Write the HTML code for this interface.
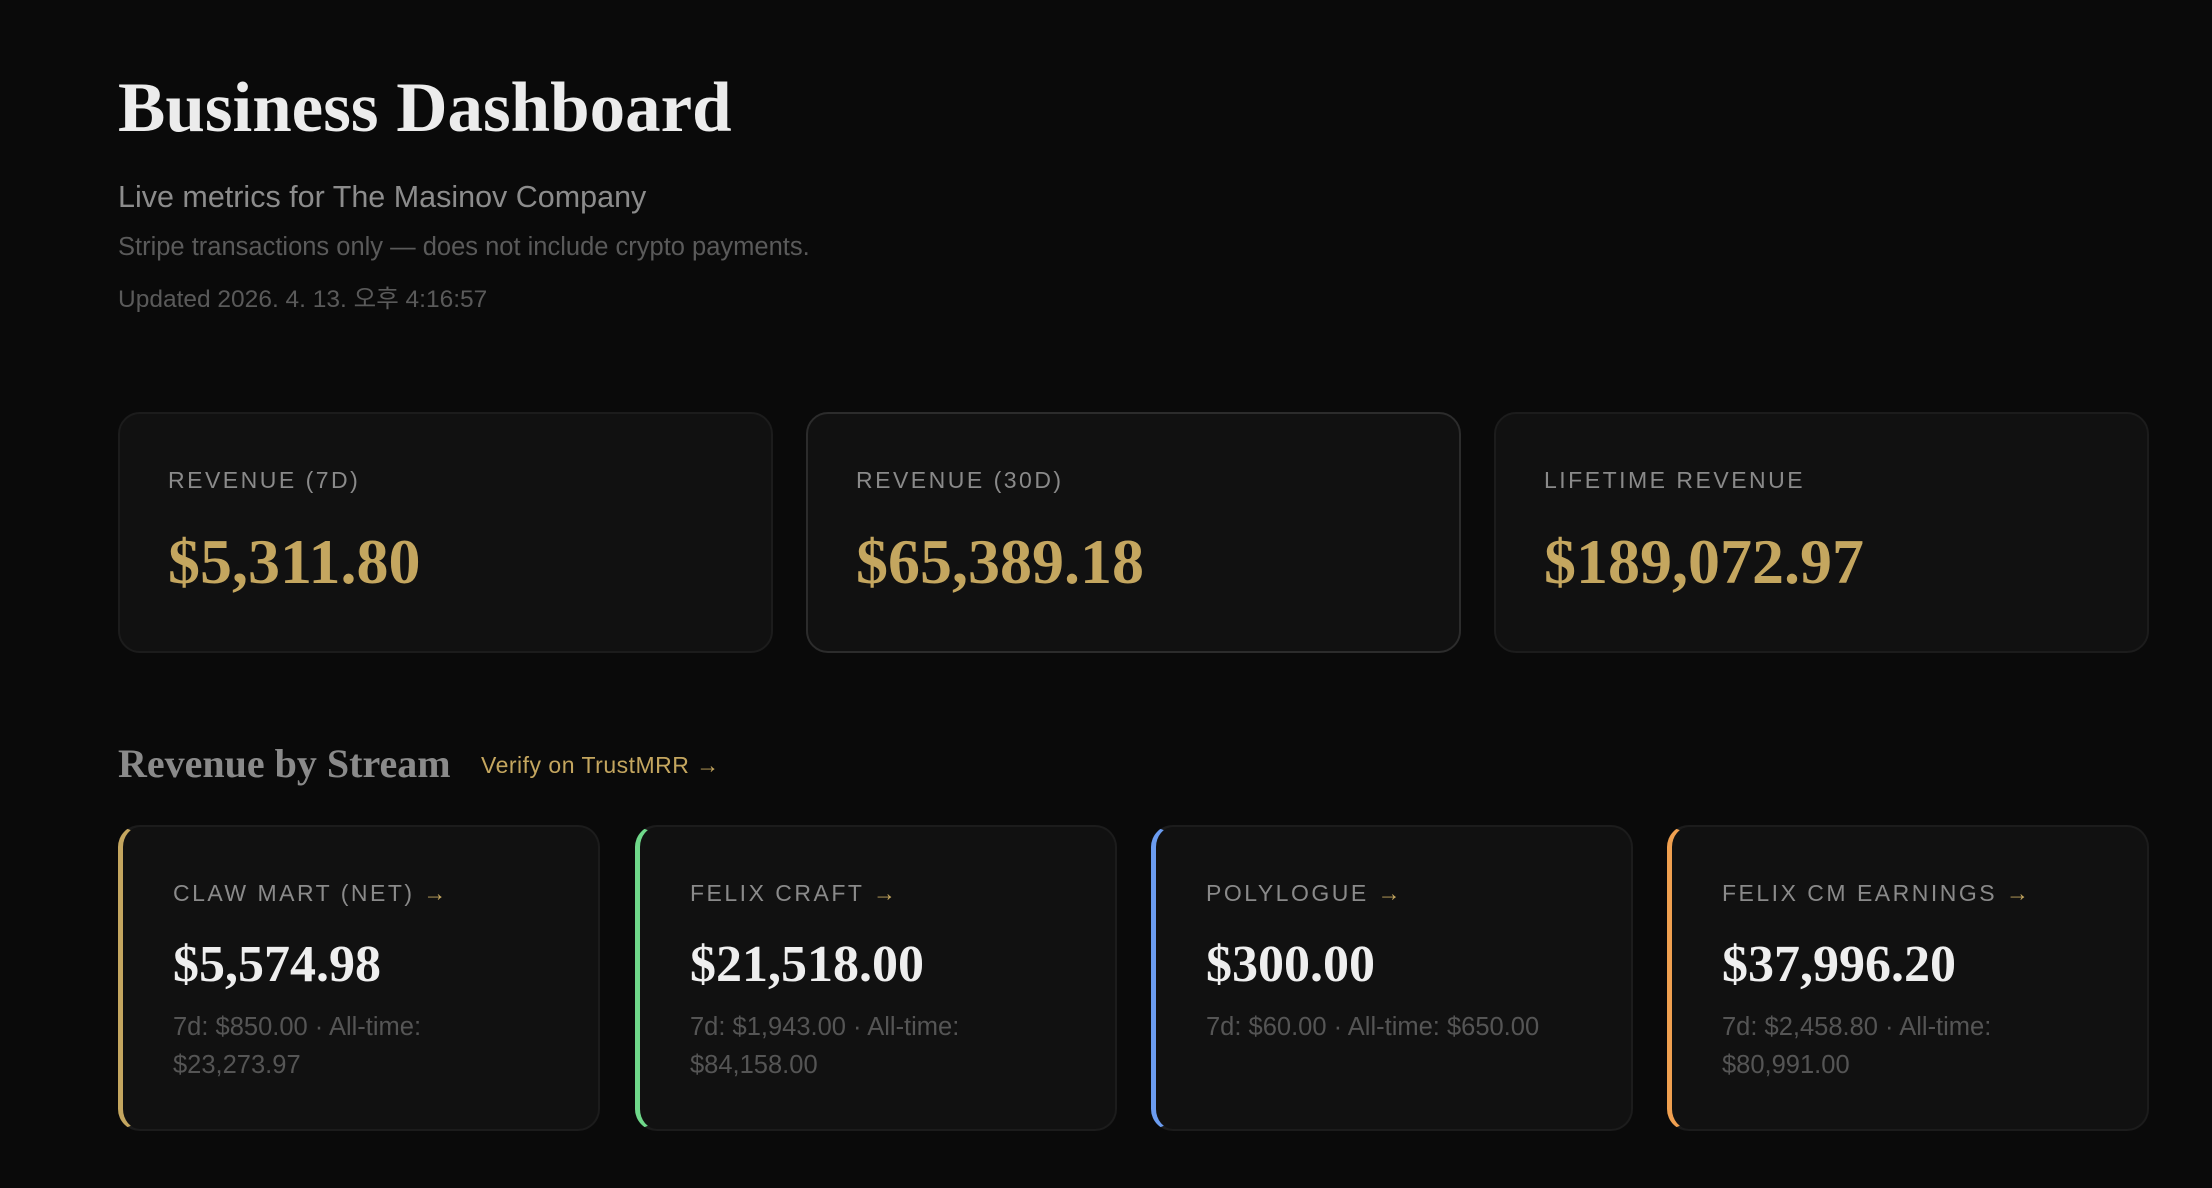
<!DOCTYPE html>
<html><head><meta charset="utf-8"><style>
*{margin:0;padding:0;box-sizing:border-box}
body{width:2212px;height:1188px;background:#0a0a0a;position:relative;overflow:hidden;font-family:"Liberation Sans","Noto Sans CJK KR",sans-serif}
.a{position:absolute;white-space:nowrap}
.serif{font-family:"Liberation Serif",serif;font-weight:bold}
.card{position:absolute;background:#111;border:2px solid #1c1c1c;border-radius:22px}
.lab{position:absolute;color:#8a8a8a;font-size:23px;letter-spacing:2.5px;white-space:nowrap}
.big{position:absolute;color:#c4a65f;font-size:64px;white-space:nowrap;font-family:"Liberation Serif",serif;font-weight:bold}
.sc{position:absolute;top:825px;width:482px;height:306px;background:#111;border:2px solid #1c1c1c;border-left-width:5px;border-radius:22px}
.sv{position:absolute;left:50px;top:108px;color:#eee;font-size:52px;font-family:"Liberation Serif",serif;font-weight:bold;white-space:nowrap}
.ss{position:absolute;left:50px;top:181px;width:375px;color:#555;font-size:25.5px;line-height:38px}
.sl{left:50px;top:53px}
.ar{color:#c4a65f}
</style></head><body>
<div class="a serif" style="left:118px;top:68px;font-size:71px;color:#ececec">Business Dashboard</div>
<div class="a" style="left:118px;top:180px;font-size:30.5px;color:#8c8c8c">Live metrics for The Masinov Company</div>
<div class="a" style="left:118px;top:233px;font-size:25.5px;color:#5a5a5a">Stripe transactions only — does not include crypto payments.</div>
<div class="a" style="left:118px;top:280px;font-size:24.5px;color:#5a5a5a">Updated 2026. 4. 13. 오후 4:16:57</div>

<div class="card" style="left:118px;top:412px;width:655px;height:241px"><div class="lab" style="left:48px;top:53px">REVENUE (7D)</div><div class="big" style="left:48px;top:111px">$5,311.80</div></div>
<div class="card" style="left:806px;top:412px;width:655px;height:241px;border-color:#2c2c2c"><div class="lab" style="left:48px;top:53px">REVENUE (30D)</div><div class="big" style="left:48px;top:111px">$65,389.18</div></div>
<div class="card" style="left:1494px;top:412px;width:655px;height:241px"><div class="lab" style="left:48px;top:53px">LIFETIME REVENUE</div><div class="big" style="left:48px;top:111px">$189,072.97</div></div>

<div class="a serif" style="left:118px;top:740px;font-size:40px;color:#8a8a8a">Revenue by Stream</div>
<div class="a" style="left:481px;top:752px;font-size:23px;color:#c4a65f;letter-spacing:0.5px">Verify on TrustMRR →</div>

<div class="sc" style="left:118px;border-left-color:#c4a65f"><div class="lab sl">CLAW MART (NET) <span class="ar">→</span></div><div class="sv">$5,574.98</div><div class="ss">7d: $850.00 · All-time: $23,273.97</div></div>
<div class="sc" style="left:635px;border-left-color:#6fd88a"><div class="lab sl">FELIX CRAFT <span class="ar">→</span></div><div class="sv">$21,518.00</div><div class="ss">7d: $1,943.00 · All-time: $84,158.00</div></div>
<div class="sc" style="left:1151px;border-left-color:#6b9cf0"><div class="lab sl">POLYLOGUE <span class="ar">→</span></div><div class="sv">$300.00</div><div class="ss" style="width:425px">7d: $60.00 · All-time: $650.00</div></div>
<div class="sc" style="left:1667px;border-left-color:#f0a050"><div class="lab sl">FELIX CM EARNINGS <span class="ar">→</span></div><div class="sv">$37,996.20</div><div class="ss">7d: $2,458.80 · All-time: $80,991.00</div></div>
</body></html>
